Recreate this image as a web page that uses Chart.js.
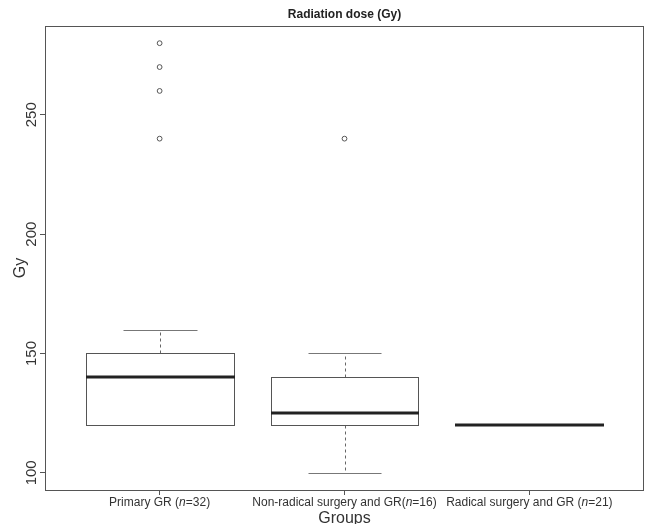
<!DOCTYPE html>
<html><head><meta charset="utf-8">
<script src="https://cdn.jsdelivr.net/npm/chart.js@4.4.0/dist/chart.umd.min.js"></script>
<style>html,body{margin:0;padding:0;background:#fff}#wrap{width:649px;height:524px;position:relative}</style>
</head><body><div id="wrap"><canvas id="c"></canvas></div>
<script>
// ---- data ----
const chartTitle = "Radiation dose (Gy)";
const labelPrefix = ["Primary GR (", "Non-radical surgery and GR(", "Radical surgery and GR ("];
const groupN = [32, 16, 21];
const whiskerLow = [120, 100, 120];
const q1 = [120, 120, 120];
const median = [140, 125, 120];
const q3 = [150, 140, 120];
const whiskerHigh = [160, 150, 120];
const outliers = [[240, 260, 270, 280], [240], []];
const yTicks = [100, 150, 200, 250];
const xTitle = "Groups";
const yTitle = "Gy";

const FONT = "'Liberation Sans', Arial, sans-serif";
const outlierPoints = [];
outliers.forEach((arr, i) => arr.forEach(v => outlierPoints.push({x: i + 1, y: v})));

const boxPlugin = {
  id: 'boxes',
  beforeDatasetsDraw(chart) {
    const ctx = chart.ctx, xs = chart.scales.x, ys = chart.scales.y;
    const px = v => Math.round(xs.getPixelForValue(v)) + 0.5;
    const py = v => Math.round(ys.getPixelForValue(v)) + 0.5;
    ctx.save();
    for (let i = 0; i < q1.length; i++) {
      const c = i + 1;
      // dashed whiskers
      ctx.strokeStyle = '#666'; ctx.lineWidth = 1; ctx.setLineDash([3, 3]);
      ctx.beginPath();
      if (whiskerHigh[i] > q3[i]) { ctx.moveTo(px(c), py(q3[i])); ctx.lineTo(px(c), py(whiskerHigh[i])); }
      if (whiskerLow[i] < q1[i]) { ctx.moveTo(px(c), py(q1[i])); ctx.lineTo(px(c), py(whiskerLow[i])); }
      ctx.stroke();
      ctx.setLineDash([]);
      // staples
      ctx.strokeStyle = '#777';
      ctx.beginPath();
      if (whiskerHigh[i] > q3[i]) { ctx.moveTo(px(c - 0.2), py(whiskerHigh[i])); ctx.lineTo(px(c + 0.2), py(whiskerHigh[i])); }
      if (whiskerLow[i] < q1[i]) { ctx.moveTo(px(c - 0.2), py(whiskerLow[i])); ctx.lineTo(px(c + 0.2), py(whiskerLow[i])); }
      ctx.stroke();
      // box
      ctx.strokeStyle = '#555';
      if (q3[i] > q1[i]) {
        ctx.strokeRect(px(c - 0.4), py(q3[i]), px(c + 0.4) - px(c - 0.4), py(q1[i]) - py(q3[i]));
      }
      // median
      ctx.strokeStyle = '#222'; ctx.lineWidth = 3;
      ctx.beginPath();
      const my = Math.round(ys.getPixelForValue(median[i]));
      ctx.moveTo(px(c - 0.4) - 0.5, my); ctx.lineTo(px(c + 0.4) + 0.5, my);
      ctx.stroke();
    }
    ctx.restore();
  },
  afterDraw(chart) {
    const ctx = chart.ctx, xs = chart.scales.x, ys = chart.scales.y, a = chart.chartArea;
    ctx.save();
    // frame
    ctx.strokeStyle = '#555'; ctx.lineWidth = 1;
    ctx.strokeRect(Math.round(a.left) + 0.5, Math.round(a.top) + 0.5,
                   Math.round(a.right) - Math.round(a.left) - 1, Math.round(a.bottom) - Math.round(a.top));
    // title
    const cx = (a.left + a.right) / 2;
    ctx.fillStyle = '#222';
    ctx.font = 'bold 12px ' + FONT;
    ctx.textAlign = 'center'; ctx.textBaseline = 'middle';
    ctx.fillText(chartTitle, cx, 15);
    // y tick labels (rotated)
    ctx.fillStyle = '#333';
    ctx.font = '15px ' + FONT;
    yTicks.forEach(v => {
      ctx.save();
      ctx.translate(32, ys.getPixelForValue(v));
      ctx.rotate(-Math.PI / 2);
      ctx.textAlign = 'center'; ctx.textBaseline = 'middle';
      ctx.fillText(String(v), 0, 0);
      ctx.restore();
    });
    // y title
    ctx.font = '16px ' + FONT;
    ctx.save();
    ctx.translate(21, (a.top + a.bottom) / 2 + 10);
    ctx.rotate(-Math.PI / 2);
    ctx.textAlign = 'center'; ctx.textBaseline = 'middle';
    ctx.fillText(yTitle, 0, 0);
    ctx.restore();
    // x tick labels with italic n
    ctx.textBaseline = 'middle';
    labelPrefix.forEach((pre, i) => {
      const parts = [[pre, false], ['n', true], ['=' + groupN[i] + ')', false]];
      const fontOf = it => (it ? 'italic ' : '') + '12px ' + FONT;
      let w = 0;
      parts.forEach(p => { ctx.font = fontOf(p[1]); w += ctx.measureText(p[0]).width; });
      let x = xs.getPixelForValue(i + 1) - w / 2;
      ctx.textAlign = 'left';
      parts.forEach(p => { ctx.font = fontOf(p[1]); ctx.fillText(p[0], x, 503); x += ctx.measureText(p[0]).width; });
    });
    // x title
    ctx.font = '16px ' + FONT;
    ctx.textAlign = 'center';
    ctx.fillText(xTitle, cx, 519);
    ctx.restore();
  }
};

new Chart(document.getElementById('c'), {
  type: 'scatter',
  data: {
    datasets: [{
      data: outlierPoints,
      pointStyle: 'circle',
      pointRadius: 2.4,
      pointBorderWidth: 1,
      pointBorderColor: '#555',
      pointBackgroundColor: '#fff'
    }]
  },
  options: {
    responsive: true,
    maintainAspectRatio: false,
    animation: false,
    events: [],
    layout: { padding: { top: 26, right: 1, left: 0, bottom: 0 } },
    plugins: { legend: { display: false }, tooltip: { enabled: false }, title: { display: false } },
    scales: {
      x: {
        type: 'linear', min: 0.38, max: 3.62,
        afterBuildTicks: s => { s.ticks = labelPrefix.map((_, i) => ({ value: i + 1 })); },
        afterFit: s => { s.height = 34; },
        ticks: { display: false },
        border: { display: false },
        grid: { drawOnChartArea: false, drawTicks: true, tickLength: 5, tickColor: '#555', color: '#555' }
      },
      y: {
        type: 'linear', min: 92.8, max: 287.2,
        afterBuildTicks: s => { s.ticks = yTicks.map(v => ({ value: v })); },
        afterFit: s => { s.width = 45; },
        ticks: { display: false },
        border: { display: false },
        grid: { drawOnChartArea: false, drawTicks: true, tickLength: 5, tickColor: '#555', color: '#555' }
      }
    }
  },
  plugins: [boxPlugin]
});
</script>
</body></html>
